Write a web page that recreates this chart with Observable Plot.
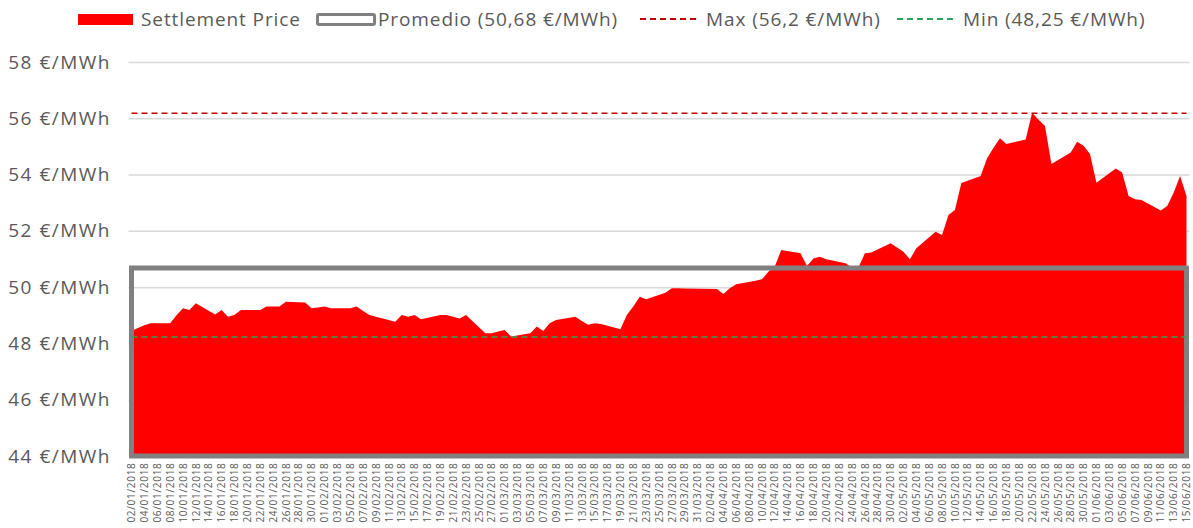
<!DOCTYPE html>
<html><head><meta charset="utf-8">
<script src="https://cdn.jsdelivr.net/npm/d3@7"></script>
<script src="https://cdn.jsdelivr.net/npm/@observablehq/plot@0.6"></script>
<style>
body{margin:0;background:#fff;font-family:"Open Sans",sans-serif;}
#legend{position:relative;height:40px;width:1193px;color:#595959;font-size:19px;letter-spacing:0.9px;}
.item{position:absolute;top:0;height:38px;display:flex;align-items:center;white-space:nowrap;}
#chart svg{display:block;}
</style></head><body>
<div id="legend"></div>
<div id="chart"></div>
<script>
// ---- data ----
const dates = [
"2018-01-02","2018-01-03","2018-01-04","2018-01-05","2018-01-08","2018-01-09","2018-01-10","2018-01-11","2018-01-12",
"2018-01-15","2018-01-16","2018-01-17","2018-01-18","2018-01-19","2018-01-22","2018-01-23","2018-01-24","2018-01-25","2018-01-26",
"2018-01-29","2018-01-30","2018-01-31","2018-02-01","2018-02-02","2018-02-05","2018-02-06","2018-02-07","2018-02-08","2018-02-09",
"2018-02-12","2018-02-13","2018-02-14","2018-02-15","2018-02-16","2018-02-19","2018-02-20","2018-02-21","2018-02-22","2018-02-23",
"2018-02-26","2018-02-27","2018-02-28","2018-03-01","2018-03-02","2018-03-05","2018-03-06","2018-03-07","2018-03-08","2018-03-09",
"2018-03-12","2018-03-13","2018-03-14","2018-03-15","2018-03-16","2018-03-19","2018-03-20","2018-03-21","2018-03-22","2018-03-23",
"2018-03-26","2018-03-27","2018-03-28","2018-03-29","2018-04-03","2018-04-04","2018-04-05","2018-04-06",
"2018-04-09","2018-04-10","2018-04-11","2018-04-12","2018-04-13","2018-04-16","2018-04-17","2018-04-18","2018-04-19","2018-04-20",
"2018-04-23","2018-04-24","2018-04-25","2018-04-26","2018-04-27","2018-04-30","2018-05-02","2018-05-03","2018-05-04",
"2018-05-07","2018-05-08","2018-05-09","2018-05-10","2018-05-11","2018-05-14","2018-05-15","2018-05-16","2018-05-17","2018-05-18",
"2018-05-21","2018-05-22","2018-05-23","2018-05-24","2018-05-25","2018-05-28","2018-05-29","2018-05-30","2018-05-31","2018-06-01",
"2018-06-04","2018-06-05","2018-06-06","2018-06-07","2018-06-08","2018-06-11","2018-06-12","2018-06-13","2018-06-14","2018-06-15"
];
const prices = [
48.45,48.55,48.65,48.72,48.72,49.00,49.25,49.19,49.43,
49.03,49.19,48.95,49.01,49.19,49.19,49.31,49.31,49.31,49.48,
49.45,49.25,49.28,49.31,49.25,49.25,49.31,49.15,49.01,48.95,
48.77,49.01,48.95,49.01,48.86,49.01,49.01,48.95,48.89,49.01,
48.36,48.36,48.42,48.48,48.25,48.36,48.60,48.44,48.72,48.83,
48.95,48.80,48.66,48.72,48.69,48.50,49.01,49.31,49.66,49.57,
49.80,49.96,49.96,49.95,49.93,49.76,49.96,50.10,
50.23,50.28,50.55,50.73,51.32,51.20,50.75,51.02,51.08,50.99,
50.85,50.70,50.70,51.20,51.23,51.56,51.26,50.99,51.38,
51.97,51.85,52.56,52.74,53.70,53.95,54.58,54.95,55.29,55.09,
55.25,56.20,55.95,55.73,54.38,54.78,55.17,55.02,54.73,53.71,
54.22,54.07,53.24,53.12,53.10,52.72,52.88,53.35,53.95,53.24
];
const average = 50.68;
const maxPrice = 56.2;
const minPrice = 48.25;
const yTicks = [44,46,48,50,52,54,56,58];
const legendLabels = ["Settlement Price","Promedio (50,68 €/MWh)","Max (56,2 €/MWh)","Min (48,25 €/MWh)"];
const xStart = "2018-01-02", xEnd = "2018-06-15";

// ---- build ----
const parse = d3.utcParse("%Y-%m-%d");
const data = dates.map((d,i)=>({date:parse(d), price:prices[i]}));
const start = parse(xStart), end = parse(xEnd);
const xTicks = d3.utcDay.range(start, d3.utcDay.offset(end,1)).filter((d,i)=>i%2===0);

const colRed = "#ff0000", colGray = "#808080", colMax = "#c00000", colMin = "#2ca35a";

// legend
const legend = document.getElementById("legend");
function item(left, swatchHtml, label){
  const el = document.createElement("div");
  el.className = "item"; el.style.left = left + "px";
  el.innerHTML = swatchHtml + `<span>${label}</span>`;
  legend.appendChild(el);
}
item(78, `<span style="display:inline-block;width:55px;height:11px;background:${colRed};margin-right:8px"></span>`, legendLabels[0]);
item(316, `<span style="display:inline-block;width:54px;height:7px;border:3.5px solid ${colGray};border-radius:3px;margin-right:2px;box-sizing:content-box"></span>`, legendLabels[1]);
const dash = c => `<svg width="57" height="4" style="margin-right:9px"><line x1="0" x2="57" y1="2" y2="2" stroke="${c}" stroke-width="2" stroke-dasharray="6,4"/></svg>`;
item(640, dash(colMax), legendLabels[2]);
item(897, dash(colMin), legendLabels[3]);

const chart = Plot.plot({
  width: 1193, height: 488,
  marginLeft: 131.5, marginRight: 6.5, marginTop: 22, marginBottom: 72,
  style: {fontFamily: "'Open Sans', sans-serif", color: "#595959", background: "#fff", overflow: "visible"},
  x: {type: "utc", domain: [start, end], ticks: xTicks, tickFormat: d3.utcFormat("%d/%m/%Y"),
      tickRotate: -90, tickSize: 0, tickPadding: 6, label: null},
  y: {domain: [44, 58], ticks: yTicks, tickFormat: d => `${d} €/MWh`, tickSize: 0, tickPadding: 21, label: null},
  marks: [
    Plot.ruleY(yTicks.filter(t => t > 44), {stroke: "#d9d9d9", strokeWidth: 1.5, insetLeft: -3, insetRight: -3}),
    Plot.areaY(data, {x: "date", y1: 44, y2: "price", fill: colRed, curve: "linear"}),
    Plot.rect([{x1: start, x2: end, y1: 44, y2: average}], {x1: "x1", x2: "x2", y1: "y1", y2: "y2", fill: "none", stroke: colGray, strokeWidth: 5}),
    Plot.ruleY([minPrice], {stroke: colMin, strokeWidth: 1.5, strokeDasharray: "6,4"}),
    Plot.ruleY([maxPrice], {stroke: colMax, strokeWidth: 1.5, strokeDasharray: "6,4"})
  ]
});
chart.querySelectorAll('g[aria-label="y-axis tick label"] text').forEach(t => { t.setAttribute("font-size", "19"); t.setAttribute("letter-spacing", "1.5"); });
chart.querySelectorAll('g[aria-label="x-axis tick label"] text').forEach(t => { t.setAttribute("font-size", "10"); t.setAttribute("letter-spacing", "0.7"); });
document.getElementById("chart").appendChild(chart);
</script>
</body></html>
